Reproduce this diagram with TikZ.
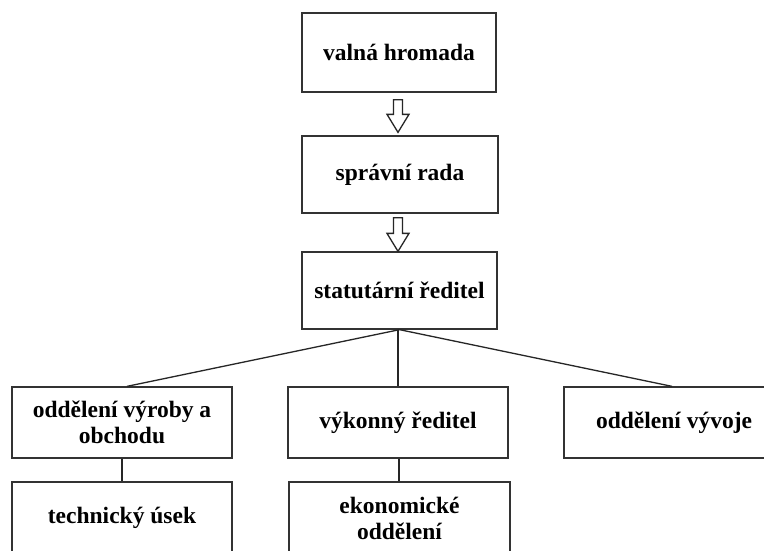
\documentclass[tikz,border=0pt]{standalone}
\usepackage{fontspec}
\setmainfont{Liberation Serif}
\usetikzlibrary{calc}
\begin{document}
\begin{tikzpicture}[x=1pt,y=-1pt,
  box/.style={draw=black!80,line width=1.3pt,rectangle,fill=white,
    align=center,inner sep=0pt,
    font=\fontsize{23.5}{26}\selectfont\bfseries},
  link/.style={draw=black!85,line width=1.3pt},
  blockarr/.style={draw=black!85,line width=1.3pt,fill=white,line join=miter}]
\clip (0,0) rectangle (764,550);
\fill[white] (0,0) rectangle (764,550);

% board and management chain
\node[box,minimum width=194,minimum height=79] (vh) at (399,52.5) {valná hromada};
\node[box,minimum width=196,minimum height=77] (sr) at (400,174.5) {správní rada};
\node[box,minimum width=195,minimum height=77] (st) at (399.5,290.5) {statutární ředitel};

% departments
\node[box,minimum width=220,minimum height=71] (ov) at (122,422.5) {oddělení výroby a\\obchodu};
\node[box,minimum width=220,minimum height=71] (vr) at (398,422.5) {výkonný ředitel};
\node[box,minimum width=220,minimum height=71] (vv) at (674,422.5) {oddělení vývoje};
\node[box,minimum width=220,minimum height=72] (tu) at (122,518) {technický úsek};
\node[box,minimum width=221,minimum height=72] (eo) at (399.5,518) {ekonomické\\oddělení};

% hollow block arrows between the top boxes
\coordinate (a1top) at ($(vh.south)+(-1,7)$);
\coordinate (a1tip) at ($(sr.north)+(-2,-3)$);
\coordinate (a2top) at ($(sr.south)+(-2,4)$);
\coordinate (a2tip) at ($(st.north)+(-1.5,0)$);
\foreach \ta/\tb in {a1top/a1tip,a2top/a2tip}{
  \draw[blockarr] let \p1=(\ta), \p2=(\tb) in
    (\x2-4.5pt,\y1) -- (\x2+4.5pt,\y1) -- (\x2+4.5pt,\y2+18pt) --
    (\x2+11pt,\y2+18pt) -- (\x2,\y2) -- (\x2-11pt,\y2+18pt) --
    (\x2-4.5pt,\y2+18pt) -- cycle;
}

% tree connectors
\draw[link] (st.south) -- ([xshift=5]ov.north);
\draw[link] (vr.north |- st.south) -- (vr.north);
\draw[link] (st.south) -- ([xshift=-2]vv.north);
\draw[link] (ov.south) -- (tu.north);
\draw[link] ([xshift=1]vr.south) -- ([xshift=1]vr.south |- eo.north);
\end{tikzpicture}
\end{document}
